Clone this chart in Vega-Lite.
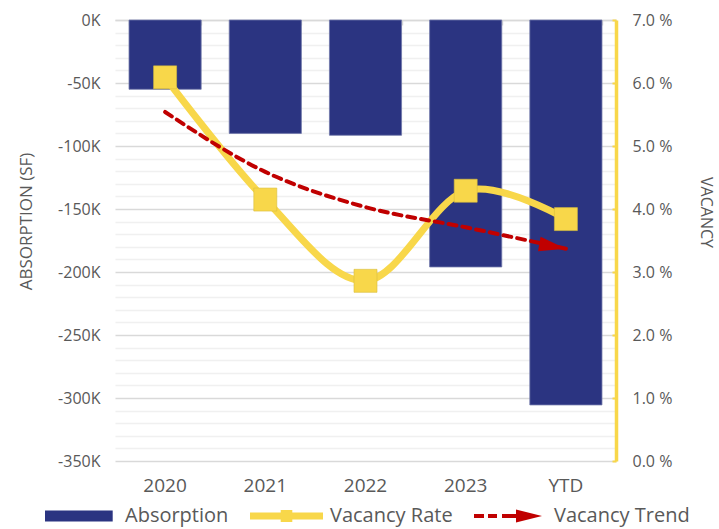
{
  "$schema": "https://vega.github.io/schema/vega-lite/v6.json",
  "width": 501,
  "height": 441,
  "autosize": {"type": "none"},
  "padding": {"left": 115, "top": 20, "right": 103, "bottom": 68},
  "config": {
    "font": "Open Sans",
    "view": {"stroke": null},
    "axis": {"labelColor": "#595959", "titleColor": "#595959", "labelFont": "Open Sans", "titleFont": "Open Sans", "titleFontWeight": "normal"}
  },
  "datasets": {
    "absorption": [
      {"year": "2020", "absorption": -55000, "series": "Absorption"},
      {"year": "2021", "absorption": -90000, "series": "Absorption"},
      {"year": "2022", "absorption": -91500, "series": "Absorption"},
      {"year": "2023", "absorption": -196000, "series": "Absorption"},
      {"year": "YTD", "absorption": -305500, "series": "Absorption"}
    ],
    "vacancy": [
      {"year": "2020", "rate": 6.09, "trend": 5.54},
      {"year": "2021", "rate": 4.15, "trend": 4.59},
      {"year": "2022", "rate": 2.86, "trend": 4.03},
      {"year": "2023", "rate": 4.29, "trend": 3.71},
      {"year": "YTD", "rate": 3.84, "trend": 3.37}
    ]
  },
  "layer": [
    {
      "data": {"name": "absorption"},
      "mark": {"type": "bar", "stroke": "#7077aa", "strokeWidth": 0.8},
      "encoding": {
        "x": {
          "field": "year", "type": "nominal",
          "scale": {"paddingInner": 0.28, "paddingOuter": 0.14},
          "axis": {"orient": "bottom", "domain": false, "ticks": false, "grid": false, "labelPadding": 15, "labelFontSize": 19, "labelAngle": 0, "title": null}
        },
        "y": {
          "field": "absorption", "type": "quantitative",
          "scale": {"domain": [-350000, 0], "nice": false, "zero": false},
          "axis": {
            "orient": "left",
            "values": [-350000, -340000, -330000, -320000, -310000, -300000, -290000, -280000, -270000, -260000, -250000, -240000, -230000, -220000, -210000, -200000, -190000, -180000, -170000, -160000, -150000, -140000, -130000, -120000, -110000, -100000, -90000, -80000, -70000, -60000, -50000, -40000, -30000, -20000, -10000, 0],
            "labelExpr": "datum.value % 50000 === 0 ? (datum.value / 1000) + 'K' : ''",
            "labelOverlap": false,
            "labelBound": false,
            "grid": true,
            "gridColor": {"condition": {"test": "datum.value % 50000 === 0", "value": "#d9d9d9"}, "value": "#f0f0f0"},
            "gridWidth": 1.5,
            "domain": false,
            "ticks": false,
            "labelPadding": 15,
            "labelFontSize": 16,
            "title": "ABSORPTION (SF)",
            "titleFontSize": 17,
            "titleX": -89,
            "titleY": 201,
            "titleAngle": -90,
            "titleAlign": "center",
            "titleBaseline": "middle"
          }
        },
        "color": {
          "field": "series", "type": "nominal",
          "scale": {"domain": ["Absorption", "Vacancy Rate", "Vacancy Trend"], "range": ["#2B3481", "#F8D74A", "#C00000"]},
          "legend": {
            "orient": "none",
            "legendX": -70,
            "legendY": 486,
            "direction": "horizontal",
            "title": null,
            "padding": 0,
            "symbolSize": 400,
            "symbolStrokeWidth": 0,
            "labelOffset": 60,
            "columnPadding": 21,
            "labelFontSize": 20,
            "labelColor": "#595959",
            "labelFont": "Open Sans",
            "labelLimit": 0,
            "encoding": {
              "symbols": {
                "shape": {
                  "condition": [
                    {"test": "datum.value === 'Absorption'", "value": "M-1,-0.55H5.77V0.55H-1Z"},
                    {"test": "datum.value === 'Vacancy Rate'", "value": "M-1,-0.35H2.07V-0.6H3.23V-0.35H6.3V0.35H3.23V0.6H2.07V0.35H-1Z"}
                  ],
                  "value": "M-1,-0.2H0V0.2H-1Z M0.4,-0.2H1.3V0.2H0.4Z M1.8,-0.2H3.2V0.2H1.8Z M3.2,-0.65L5.8,0L3.2,0.65Z"
                },
                "opacity": {"value": 1}
              }
            }
          }
        }
      }
    },
    {
      "data": {"name": "vacancy"},
      "encoding": {
        "x": {
          "field": "year", "type": "nominal",
          "axis": {"orient": "top", "labels": false, "domain": true, "domainColor": "#d9d9d9", "domainWidth": 1.5, "ticks": true, "tickColor": "#d9d9d9", "tickSize": -5, "tickWidth": 1.5, "tickBand": "extent", "grid": false, "title": null}
        }
      },
      "layer": [
        {
          "mark": {"type": "line", "color": "#F8D74A", "strokeWidth": 7, "interpolate": "cardinal", "strokeCap": "round"},
          "encoding": {
            "y": {
              "field": "rate", "type": "quantitative", "title": "VACANCY",
              "scale": {"domain": [0, 7], "nice": false, "zero": true},
              "axis": {
                "orient": "right",
                "values": [0, 1, 2, 3, 4, 5, 6, 7],
                "labelExpr": "format(datum.value, '.1f') + ' %'",
                "grid": false,
                "domainColor": "#F8D74A",
                "domainWidth": 3.5,
                "tickColor": "#F8D74A",
                "tickSize": -4,
                "tickWidth": 2,
                "labelPadding": 20,
                "labelFontSize": 16,
                "titleFontSize": 16,
                "titleAngle": 90,
                "titleX": 89,
                "titleY": 192,
                "titleAlign": "center",
                "titleBaseline": "middle"
              }
            }
          }
        },
        {
          "mark": {"type": "line", "color": "#C00000", "strokeWidth": 4, "strokeDash": [8, 6], "interpolate": "monotone", "strokeCap": "round"},
          "encoding": {"y": {"field": "trend", "type": "quantitative", "title": "VACANCY"}}
        },
        {
          "transform": [{"filter": "datum.year === 'YTD'"}],
          "mark": {"type": "point", "shape": "M-2,-0.55L0,0L-2,0.55Z", "size": 729, "angle": 10, "filled": true, "color": "#C00000", "opacity": 1},
          "encoding": {"y": {"field": "trend", "type": "quantitative", "title": "VACANCY"}}
        },
        {
          "mark": {"type": "square", "size": 529, "color": "#F8D74A", "opacity": 1, "stroke": "#d8bd3c", "strokeWidth": 0.6},
          "encoding": {"y": {"field": "rate", "type": "quantitative", "title": "VACANCY"}}
        }
      ]
    }
  ],
  "resolve": {"scale": {"y": "independent"}, "axis": {"x": "independent"}}
}
